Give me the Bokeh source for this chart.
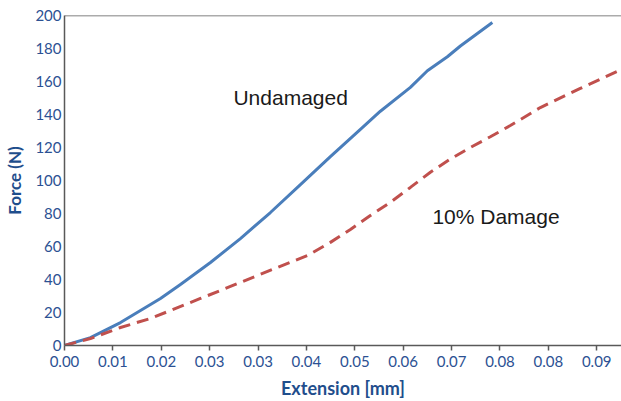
from bokeh.plotting import figure
from bokeh.models import FixedTicker, NumeralTickFormatter, Label, Span, Range1d
from bokeh.embed import file_html
from bokeh.resources import INLINE

# Undamaged specimen (extension mm, force N)
undamaged_x = [0.0, 0.00451, 0.00972, 0.01493, 0.01666, 0.02013, 0.02534, 0.03054, 0.03575,
               0.04096, 0.04616, 0.05137, 0.05484, 0.06005, 0.06300, 0.06647, 0.06873,
               0.07168, 0.07428]
undamaged_y = [0.0, 4.8, 13.9, 24.8, 28.5, 37.0, 50.3, 64.8, 80.6,
               97.5, 114.5, 131.0, 142.0, 156.4, 166.5, 175.0, 181.5,
               189.1, 195.8]

# 10% damage specimen
damaged_x = [0.0, 0.00451, 0.00972, 0.01493, 0.0184, 0.0236, 0.03054, 0.03697, 0.04217,
             0.04616, 0.04964, 0.0531, 0.05658, 0.06005, 0.06352, 0.06699, 0.07046,
             0.07393, 0.0774, 0.08261, 0.08955, 0.09667]
damaged_y = [0.0, 4.2, 10.9, 16.4, 21.2, 28.5, 38.2, 47.3, 54.5,
             62.5, 70.3, 78.8, 86.8, 95.8, 105.0, 113.0, 120.0,
             126.5, 133.3, 144.2, 155.8, 167.3]

x_ticks = [0.0, 0.0084, 0.0168, 0.0252, 0.0336, 0.042, 0.0504, 0.0588, 0.0672, 0.0756, 0.084, 0.0924]
y_ticks = [0, 20, 40, 60, 80, 100, 120, 140, 160, 180, 200]

BLUE = "#4A7EBB"
RED = "#C0504D"
TICK_COL = "#2C5193"
TITLE_COL = "#1F4E8C"
AXIS_COL = "#595959"

p = figure(width=621, height=401, output_backend="svg", toolbar_location=None,
           x_range=Range1d(0, 0.0967), y_range=Range1d(0, 200),
           min_border_left=64, min_border_right=0, min_border_top=15, min_border_bottom=56)
p.outline_line_color = None
p.xgrid.visible = False
p.ygrid.visible = False
p.background_fill_color = "white"
p.border_fill_color = "white"

p.line(undamaged_x, undamaged_y, color=BLUE, line_width=3, line_join="round")
p.line(damaged_x, damaged_y, color=RED, line_width=3, line_dash="12 7")

p.add_layout(Span(location=200, dimension="width", line_color=AXIS_COL, line_width=1.5))

xa = p.xaxis[0]
xa.ticker = FixedTicker(ticks=x_ticks)
xa.formatter = NumeralTickFormatter(format="0.00")
xa.axis_label = "Extension [mm]"
xa.major_tick_out = 5
xa.major_tick_in = 0
xa.minor_tick_out = 0
xa.minor_tick_in = 0
xa.axis_line_color = AXIS_COL
xa.axis_line_width = 1.5
xa.major_tick_line_color = AXIS_COL
xa.major_tick_line_width = 1.5
xa.major_label_standoff = 5
xa.major_label_text_font = "Lato"
xa.major_label_text_font_size = "15px"
xa.major_label_text_color = TICK_COL
xa.axis_label_text_font = "Lato"
xa.axis_label_text_font_style = "bold"
xa.axis_label_text_font_size = "18px"
xa.axis_label_text_color = TITLE_COL
xa.axis_label_standoff = 7

ya = p.yaxis[0]
ya.ticker = FixedTicker(ticks=y_ticks)
ya.axis_label = "Force (N)"
ya.major_tick_out = 0
ya.major_tick_in = 0
ya.minor_tick_out = 0
ya.minor_tick_in = 0
ya.axis_line_color = AXIS_COL
ya.axis_line_width = 1.5
ya.major_label_standoff = 3
ya.major_label_text_font = "Lato"
ya.major_label_text_font_size = "15px"
ya.major_label_text_color = TICK_COL
ya.axis_label_text_font = "Lato"
ya.axis_label_text_font_style = "bold"
ya.axis_label_text_font_size = "17px"
ya.axis_label_text_color = TITLE_COL
ya.axis_label_standoff = 7

p.add_layout(Label(x=0.02933, y=150.3, text="Undamaged", text_font="Liberation Sans",
                   text_font_size="21px", text_color="#1a1a1a", text_baseline="alphabetic"))
p.add_layout(Label(x=0.06387, y=78.0, text="10% Damage", text_font="Liberation Sans",
                   text_font_size="21px", text_color="#1a1a1a", text_baseline="alphabetic"))

open("out.html", "w").write(file_html(p, INLINE))
